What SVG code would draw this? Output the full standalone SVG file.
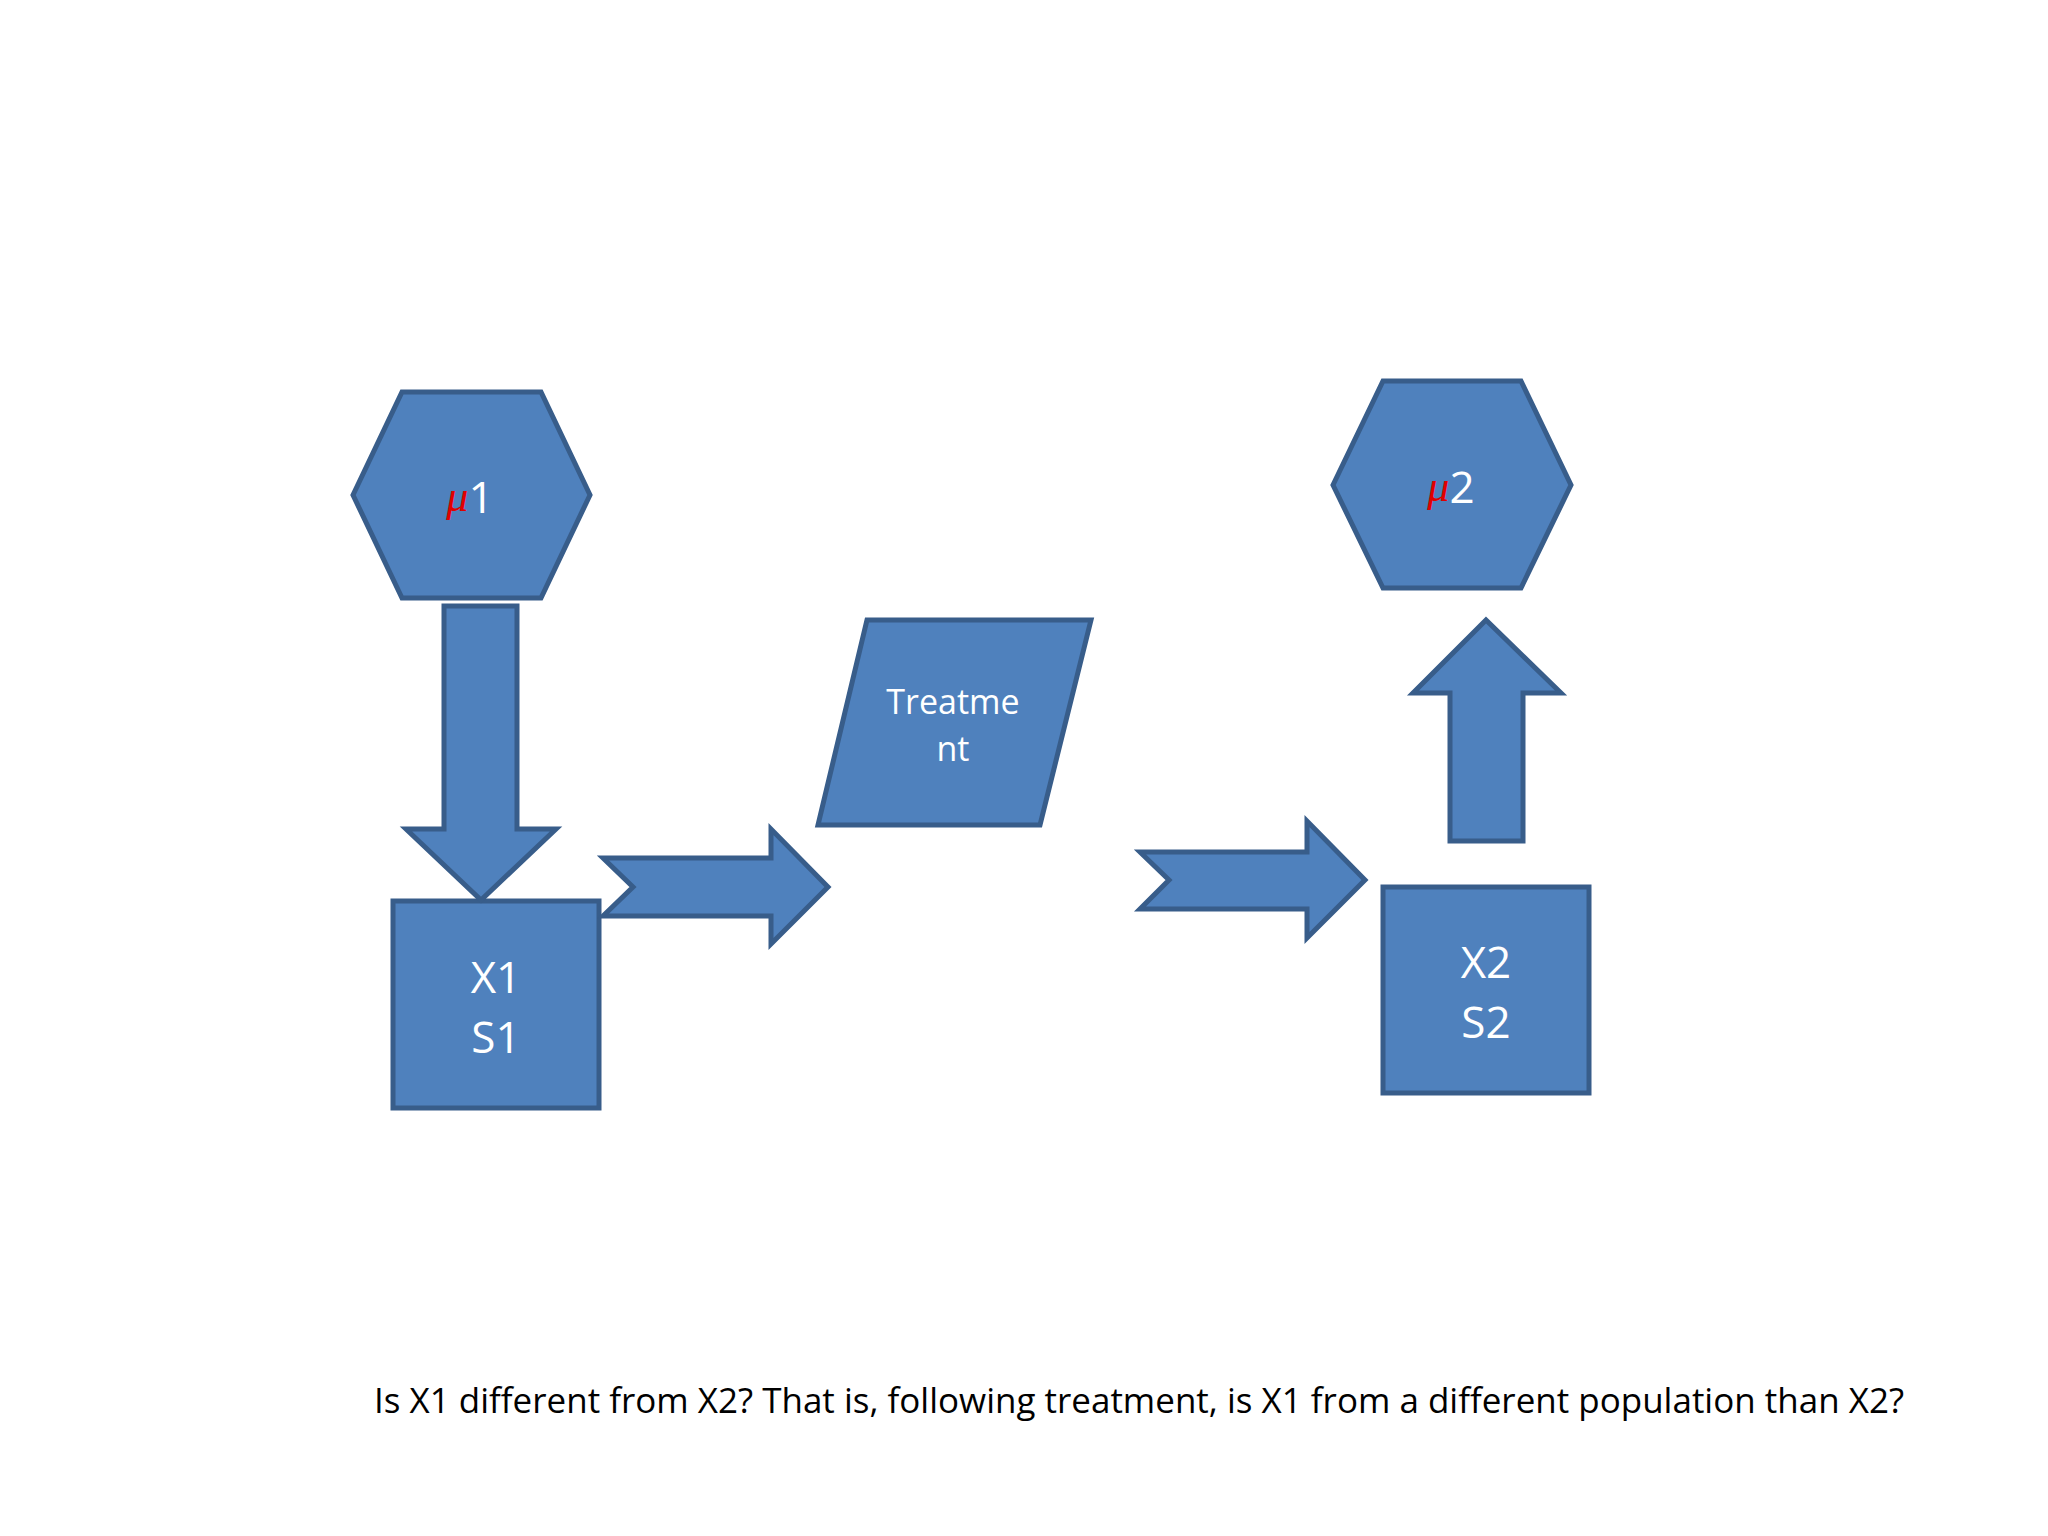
<svg xmlns="http://www.w3.org/2000/svg" width="2048" height="1536" viewBox="0 0 2048 1536">
<style>
.s{fill:#4F81BD;stroke:#385D8A;stroke-width:5;stroke-linejoin:miter}
.t{font-family:"Open Sans","Liberation Sans",sans-serif;fill:#fff;text-anchor:middle;dominant-baseline:central}
</style>
<rect width="2048" height="1536" fill="#fff"/>
<g id="mu1"><polygon class="s" points="353,495 402,392 541,392 590,495 541,598 402,598"/>
<text class="t" x="470" y="496" font-size="44"><tspan fill="#E00000" font-style="italic" font-family="Liberation Serif,serif">μ</tspan>1</text></g>
<g id="x1"><rect class="s" x="393" y="901" width="206" height="207"/>
<text class="t" x="496" y="976" font-size="44">X1</text><text class="t" x="496" y="1036" font-size="44">S1</text></g>
<g id="treatment"><polygon class="s" points="867,620 1091,620 1040,825 818,825"/>
<text class="t" x="953" y="701" font-size="34">Treatme</text><text class="t" x="953" y="748" font-size="34">nt</text></g>
<g id="x2"><rect class="s" x="1383" y="887" width="206" height="206"/>
<text class="t" x="1486" y="961" font-size="44">X2</text><text class="t" x="1486" y="1021" font-size="44">S2</text></g>
<g id="mu2"><polygon class="s" points="1333,485 1383,381 1521,381 1571,485 1521,588 1383,588"/>
<text class="t" x="1451" y="486" font-size="44"><tspan fill="#E00000" font-style="italic" font-family="Liberation Serif,serif">μ</tspan>2</text></g>
<g id="connectors">
<polygon class="s" points="444,606 517,606 517,829 556,829 481,900 406,829 444,829"/>
<polygon class="s" points="603,858 771,858 771,829 828,887 771,944 771,916 603,916 633,887"/>
<polygon class="s" points="1140,852 1307,852 1307,821 1365,880 1307,938 1307,909 1140,909 1169,880"/>
<polygon class="s" points="1450,841 1523,841 1523,693 1561,693 1486,620 1413,693 1450,693"/>
</g>
<text x="374" y="1413" font-family="Open Sans,Liberation Sans,sans-serif" font-size="35" fill="#000" textLength="1530" lengthAdjust="spacingAndGlyphs">Is X1 different from X2? That is, following treatment, is X1 from a different population than X2?</text>
</svg>
